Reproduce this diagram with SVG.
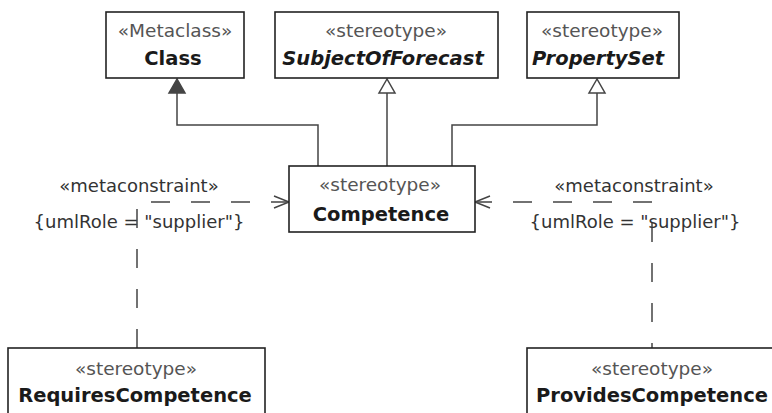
<svg xmlns="http://www.w3.org/2000/svg" width="772" height="413" viewBox="0 0 772 413">
<style>
.box{fill:#fff;stroke:#222;stroke-width:1.6}
.st{font-family:"DejaVu Sans",Verdana,sans-serif;font-size:18.5px;fill:#555;text-anchor:middle}
.nm{font-family:"DejaVu Sans",Verdana,sans-serif;font-size:19.5px;font-weight:bold;fill:#1a1a1a;text-anchor:middle}
.it{font-style:italic}
.lbl{font-family:"DejaVu Sans",Verdana,sans-serif;font-size:18px;fill:#333;text-anchor:middle}
.ln{fill:none;stroke:#444;stroke-width:1.5}
.dash{fill:none;stroke:#444;stroke-width:1.5;stroke-dasharray:19 21}
.tri{fill:#fff;stroke:#444;stroke-width:1.5}
.trif{fill:#444;stroke:#444;stroke-width:1.5}
</style>
<rect width="772" height="413" fill="#fff"/>
<g id="connectors">
  <path class="ln" d="M318,166 V125 H177 V93"/>
  <polygon class="trif" points="177,79 169,93 185,93"/>
  <path class="ln" d="M387,166 V93"/>
  <polygon class="tri" points="387,79 379,93 395,93"/>
  <path class="ln" d="M452,166 V125 H597 V93"/>
  <polygon class="tri" points="597,79 589,93 605,93"/>
  <path class="dash" d="M137,348 V202 H287"/>
  <path class="ln" d="M274,196 L289,202 L274,208"/>
  <path class="dash" stroke-dashoffset="4" d="M477,202 H652 V348"/>
  <path class="ln" d="M490,196 L475,202 L490,208"/>
  <text class="lbl" x="139" y="192">«metaconstraint»</text>
  <text class="lbl" x="139" y="228">{umlRole = "supplier"}</text>
  <text class="lbl" x="634" y="192">«metaconstraint»</text>
  <text class="lbl" x="635" y="228">{umlRole = "supplier"}</text>
</g>
<g id="Class">
  <rect class="box" x="106" y="12" width="138" height="66"/>
  <text class="st" x="175" y="37">«Metaclass»</text>
  <text class="nm" x="173" y="65">Class</text>
</g>
<g id="SubjectOfForecast">
  <rect class="box" x="275" y="12" width="223" height="66"/>
  <text class="st" x="386" y="37">«stereotype»</text>
  <text class="nm it" x="383" y="65">SubjectOfForecast</text>
</g>
<g id="PropertySet">
  <rect class="box" x="527" y="12" width="152" height="66"/>
  <text class="st" x="602" y="37">«stereotype»</text>
  <text class="nm it" x="598" y="65">PropertySet</text>
</g>
<g id="Competence">
  <rect class="box" x="289" y="166" width="186" height="66"/>
  <text class="st" x="380" y="191">«stereotype»</text>
  <text class="nm" x="381" y="221">Competence</text>
</g>
<g id="RequiresCompetence">
  <rect class="box" x="8" y="348" width="257" height="80"/>
  <text class="st" x="136" y="375">«stereotype»</text>
  <text class="nm" x="135" y="402">RequiresCompetence</text>
</g>
<g id="ProvidesCompetence">
  <rect class="box" x="527" y="348" width="250" height="80"/>
  <text class="st" x="652" y="375">«stereotype»</text>
  <text class="nm" x="652" y="402">ProvidesCompetence</text>
</g>
</svg>
